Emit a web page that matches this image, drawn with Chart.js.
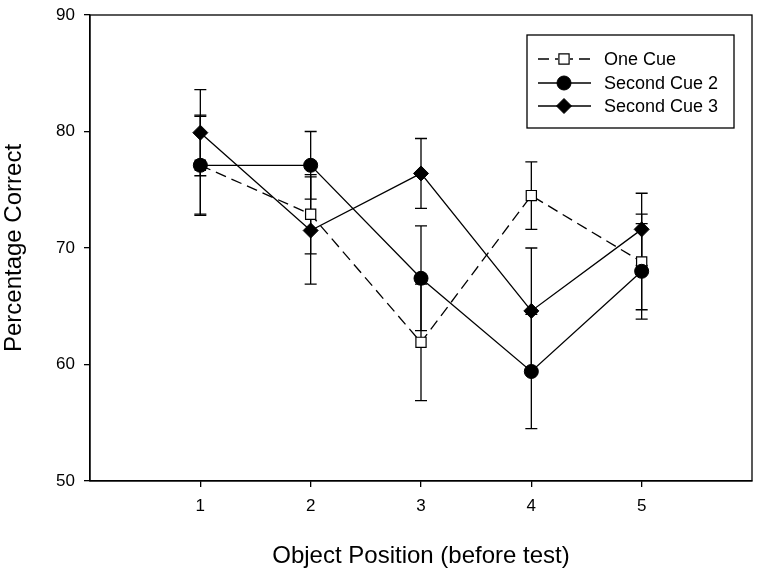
<!DOCTYPE html>
<html>
<head>
<meta charset="utf-8">
<script src="https://cdn.jsdelivr.net/npm/chart.js@4/dist/chart.umd.min.js"></script>
<style>
html,body{margin:0;padding:0;background:#fff;}
#wrap{width:764px;height:575px;}
</style>
</head>
<body>
<div id="wrap"><canvas id="c" width="764" height="575"></canvas></div>
<script>
const positions = [1, 2, 3, 4, 5];
const seriesLabels = ['One Cue', 'Second Cue 2', 'Second Cue 3'];
const oneCue = [77.1, 72.9, 61.9, 74.5, 68.8];
const oneCueErr = [4.3, 3.4, 5.0, 2.9, 4.1];
const secondCue2 = [77.1, 77.1, 67.4, 59.4, 68.0];
const secondCue2Err = [4.2, 2.9, 4.5, 4.9, 4.1];
const secondCue3 = [79.9, 71.5, 76.4, 64.6, 71.6];
const secondCue3Err = [3.7, 4.6, 3.0, 5.4, 3.1];
const xTicks = [1, 2, 3, 4, 5];
const yTicks = [50, 60, 70, 80, 90];

const FONT = "'Liberation Sans', Arial, sans-serif";

function pts(vals){ return positions.map((p,i)=>({x:p, y:vals[i]})); }

const datasets = [
  {label: seriesLabels[0], data: pts(oneCue), err: oneCueErr, borderColor:'#000', borderWidth:1.3, borderDash:[11,6],
   pointStyle:'rect', pointRadius:7.2, pointBackgroundColor:'#fff', pointBorderColor:'#000', pointBorderWidth:1.2, order:3, fill:false, tension:0},
  {label: seriesLabels[1], data: pts(secondCue2), err: secondCue2Err, borderColor:'#000', borderWidth:1.3,
   pointStyle:'circle', pointRadius:7, pointBackgroundColor:'#000', pointBorderColor:'#000', pointBorderWidth:1, order:2, fill:false, tension:0},
  {label: seriesLabels[2], data: pts(secondCue3), err: secondCue3Err, borderColor:'#000', borderWidth:1.3,
   pointStyle:'rectRot', pointRadius:7.5, pointBackgroundColor:'#000', pointBorderColor:'#000', pointBorderWidth:1, order:1, fill:false, tension:0}
];

const errorBars = {
  id:'errorBars',
  beforeDatasetsDraw(chart){
    const {ctx, scales:{x,y}} = chart;
    ctx.save();
    ctx.strokeStyle = '#000';
    ctx.lineWidth = 1.3;
    chart.data.datasets.forEach(ds=>{
      ds.data.forEach((pt,i)=>{
        const e = ds.err[i];
        const px = x.getPixelForValue(pt.x);
        const top = y.getPixelForValue(pt.y + e);
        const bot = y.getPixelForValue(pt.y - e);
        ctx.beginPath();
        ctx.moveTo(px, top); ctx.lineTo(px, bot);
        ctx.moveTo(px-6, top); ctx.lineTo(px+6, top);
        ctx.moveTo(px-6, bot); ctx.lineTo(px+6, bot);
        ctx.stroke();
      });
    });
    ctx.restore();
  }
};

const frame = {
  id:'frame',
  afterDraw(chart){
    const {ctx, chartArea:a} = chart;
    ctx.save();
    ctx.strokeStyle = '#000';
    ctx.lineWidth = 1.3;
    ctx.strokeRect(a.left, a.top, a.right-a.left, a.bottom-a.top);
    ctx.restore();
  }
};

const legendBox = {
  id:'legendBox',
  afterDraw(chart){
    const ctx = chart.ctx;
    ctx.save();
    ctx.strokeStyle = '#000';
    ctx.lineWidth = 1.3;
    ctx.fillStyle = '#fff';
    ctx.fillRect(527, 35, 207, 93);
    ctx.strokeRect(527, 35, 207, 93);
    const rows = [59, 83, 106];
    chart.data.datasets.forEach((ds, i)=>{
      const yy = rows[i];
      ctx.save();
      ctx.lineWidth = 1.3;
      if (ds.borderDash) {
        ctx.beginPath();
        ctx.moveTo(538, yy); ctx.lineTo(549, yy);
        ctx.moveTo(555, yy); ctx.lineTo(558, yy);
        ctx.moveTo(570, yy); ctx.lineTo(573, yy);
        ctx.moveTo(579, yy); ctx.lineTo(590, yy);
        ctx.stroke();
      } else {
        ctx.beginPath();
        ctx.moveTo(538, yy); ctx.lineTo(591, yy);
        ctx.stroke();
      }
      ctx.restore();
      ctx.save();
      ctx.fillStyle = ds.pointBackgroundColor;
      ctx.strokeStyle = ds.pointBorderColor;
      ctx.lineWidth = ds.pointBorderWidth;
      Chart.helpers.drawPoint(ctx, {pointStyle: ds.pointStyle, radius: ds.pointRadius, borderWidth: ds.pointBorderWidth, rotation:0}, 564, yy);
      ctx.restore();
      ctx.fillStyle = '#000';
      ctx.font = '18px ' + FONT;
      ctx.textBaseline = 'middle';
      ctx.textAlign = 'left';
      ctx.fillText(ds.label, 604, yy + 1);
    });
    ctx.restore();
  }
};

new Chart(document.getElementById('c'), {
  type:'line',
  data:{datasets},
  plugins:[errorBars, frame, legendBox],
  options:{
    responsive:false,
    animation:false,
    devicePixelRatio:1,
    layout:{padding:{top:15, right:12, left:0, bottom:0}},
    plugins:{legend:{display:false}, tooltip:{enabled:false}},
    scales:{
      x:{
        type:'linear', min:0, max:6,
        afterBuildTicks(s){ s.ticks = xTicks.map(v=>({value:v})); },
        afterFit(s){ s.height = 94; s.paddingLeft = 0; s.paddingRight = 0; },
        grid:{display:true, drawOnChartArea:false, drawTicks:true, tickLength:6, color:'#000', lineWidth:1.3},
        border:{display:true, color:'#000', width:1.3},
        ticks:{color:'#000', font:{family:FONT, size:17}, padding:9, maxRotation:0},
        title:{display:true, text:'Object Position (before test)', color:'#000', font:{family:FONT, size:24}, padding:{top:0, bottom:4}}
      },
      y:{
        type:'linear', min:50, max:90,
        afterBuildTicks(s){ s.ticks = yTicks.map(v=>({value:v})); },
        afterFit(s){ s.width = 90; s.paddingTop = 0; s.paddingBottom = 0; },
        grid:{display:true, drawOnChartArea:false, drawTicks:true, tickLength:6, color:'#000', lineWidth:1.3},
        border:{display:true, color:'#000', width:1.3},
        ticks:{color:'#000', font:{family:FONT, size:17}, padding:9},
        title:{display:true, text:'Percentage Correct', color:'#000', font:{family:FONT, size:24}, padding:{top:0, bottom:0}}
      }
    }
  }
});
</script>
</body>
</html>
